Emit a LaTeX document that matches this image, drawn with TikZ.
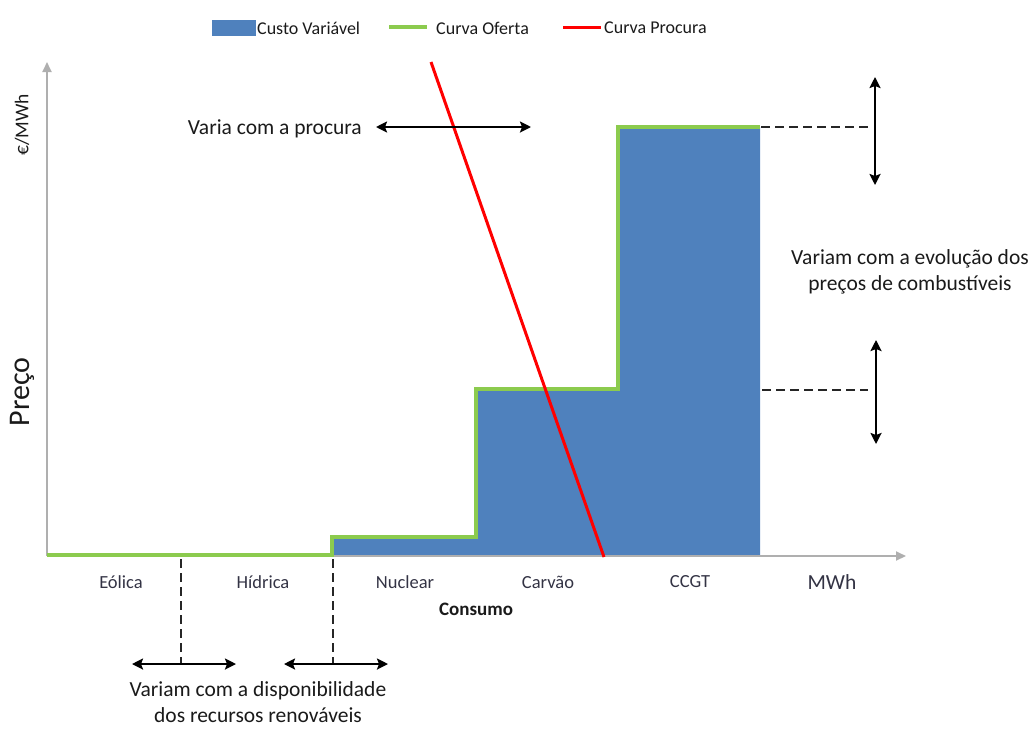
\documentclass[tikz,border=0pt]{standalone}
\usepackage{fontspec}
\setmainfont{Carlito}
\usetikzlibrary{arrows.meta}
\definecolor{cvblue}{HTML}{4F81BD}
\definecolor{ofgreen}{HTML}{8CCB4E}
\definecolor{pcred}{HTML}{FF0000}
\definecolor{axgray}{HTML}{AFAFAF}
\definecolor{txtc}{HTML}{1A1A1A}
\definecolor{catc}{HTML}{333344}
\begin{document}
\begin{tikzpicture}[x=1pt,y=-1pt,
  annot/.style={inner sep=0pt, text=txtc, font=\fontsize{21.5}{25.5}\selectfont, align=center},
  catlbl/.style={inner sep=0pt, text=catc, font=\fontsize{18.5}{22}\selectfont},
  leglbl/.style={inner sep=0pt, text=txtc, font=\fontsize{18}{22}\selectfont, anchor=west},
  axis/.style={draw=axgray, line width=1.8pt, -{Triangle[length=10pt,width=9pt]}},
  offer/.style={draw=ofgreen, line width=4.5pt},
  demand/.style={draw=pcred, line width=3pt},
  dbl/.style={draw=black, line width=2.5pt, {Stealth[length=11pt,width=11pt,inset=2pt]}-{Stealth[length=11pt,width=11pt,inset=2pt]}},
  guide/.style={draw=black!85, line width=2.5pt, dash pattern=on 9pt off 5pt}
]
\useasboundingbox (0,0) rectangle (1035,729);

% ---- legend
\node[fill=cvblue, minimum width=44pt, minimum height=16pt, inner sep=0pt, anchor=west] (legbox) at (212,28) {};
\node[leglbl] (leg1) at (257,28) {Custo Variável};
\coordinate (lg1) at (389,27);
\coordinate (lg2) at (427,27);
\draw[offer, line width=4pt] (lg1) -- (lg2);
\node[leglbl] (leg2) at (436,28) {Curva Oferta};
\coordinate (lr1) at (563,27);
\coordinate (lr2) at (601,27);
\draw[demand] (lr1) -- (lr2);
\node[leglbl] (leg3) at (604,28) {Curva Procura};

% ---- variable cost area
\coordinate (o) at (47,556);
\coordinate (s0) at (332,556);
\coordinate (s1) at (332,537);
\coordinate (s2) at (476,537);
\coordinate (s3) at (476,389);
\coordinate (s4) at (618,389);
\coordinate (s5) at (618,127);
\coordinate (s6) at (760,127);
\coordinate (s7) at (760,556);
\fill[cvblue] (s0) -- (s1) -- (s2) -- (s3) -- (s4) -- (s5) -- (s6) -- (s7) -- cycle;

% ---- axes
\coordinate (ytip) at (47,62);
\coordinate (xtip) at (906,556);
\draw[axis] (o) -- (ytip);
\draw[axis] (o) -- (xtip);

% ---- supply curve
\coordinate (g0) at (47,555);
\coordinate (g1) at (332,555);
\draw[offer, line join=miter] (g0) -- (g1) -- (s1) -- (s2) -- (s3) -- (s4) -- (s5) -- (s6);

% ---- demand curve
\coordinate (d0) at (431,62);
\coordinate (d1) at (604,557);
\draw[demand] (d0) -- (d1);

% ---- axis labels
\node[inner sep=0pt, rotate=90, text=txtc, font=\fontsize{30}{34}\selectfont] (preco) at (22,392) {Preço};
\node[inner sep=0pt, rotate=90, text=txtc, font=\fontsize{19.5}{22}\selectfont] (eur) at (22,125) {€/MWh};

% ---- category labels
\node[catlbl] (eol) at (121,582) {Eólica};
\node[catlbl] (hid) at (263,582) {Hídrica};
\node[catlbl] (nuc) at (405,582) {Nuclear};
\node[catlbl] (car) at (548,582) {Carvão};
\node[catlbl] (ccgt) at (690,582) {CCGT};
\node[inner sep=0pt, text=catc, font=\fontsize{21.5}{24}\selectfont] (mwh) at (832,582) {MWh};
\node[inner sep=0pt, text=txtc, font=\fontsize{19}{22}\selectfont\bfseries] (cons) at (476,609) {Consumo};

% ---- demand variation
\node[annot, anchor=east] (vproc) at (362,129) {Varia com a procura};
\coordinate (pa) at (376,127);
\coordinate (pb) at (531,127);
\draw[dbl] (pa) -- (pb);

% ---- fuel price variation
\coordinate (h1a) at (761,127);
\coordinate (h1b) at (868,127);
\coordinate (h2a) at (762,390);
\coordinate (h2b) at (868,390);
\draw[guide] (h1a) -- (h1b);
\draw[guide] (h2a) -- (h2b);
\coordinate (v1a) at (875,77);
\coordinate (v1b) at (875,185);
\coordinate (v2a) at (876,340);
\coordinate (v2b) at (876,444);
\draw[dbl] (v1a) -- (v1b);
\draw[dbl] (v2a) -- (v2b);
\node[annot] (vcomb) at (910,272) {Variam com a evolução dos\\preços de combustíveis};

% ---- renewable availability
\coordinate (e1a) at (181,559);
\coordinate (e1b) at (181,664);
\coordinate (e2a) at (333,559);
\coordinate (e2b) at (333,664);
\draw[guide] (e1a) -- (e1b);
\draw[guide] (e2a) -- (e2b);
\coordinate (ra) at (132,664);
\coordinate (rb) at (236,664);
\coordinate (rc) at (284,664);
\coordinate (rd) at (388,664);
\draw[dbl] (ra) -- (rb);
\draw[dbl] (rc) -- (rd);
\node[annot] (vren) at (258,702) {Variam com a disponibilidade\\dos recursos renováveis};
\end{tikzpicture}
\end{document}
